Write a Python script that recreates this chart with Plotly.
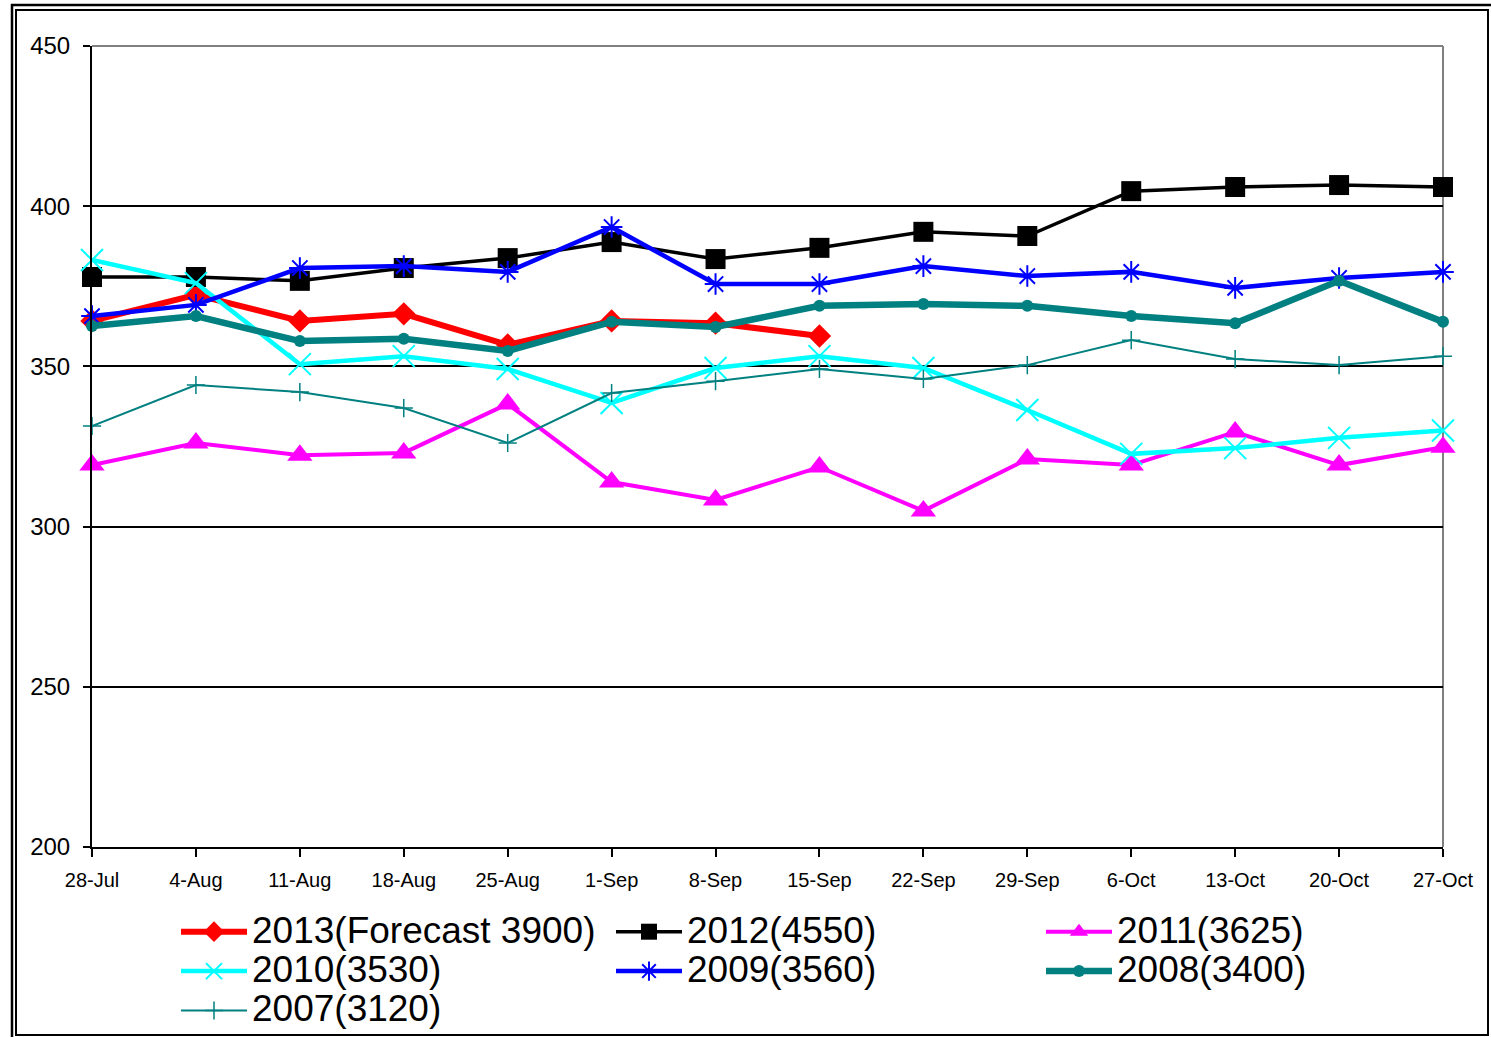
import plotly.graph_objects as go

weeks = ["28-Jul", "4-Aug", "11-Aug", "18-Aug", "25-Aug", "1-Sep", "8-Sep",
         "15-Sep", "22-Sep", "29-Sep", "6-Oct", "13-Oct", "20-Oct", "27-Oct"]

s2013 = [364.2, 372.3, 364.2, 366.4, 356.7, 364.2, 363.5, 359.5]
s2012 = [377.9, 377.9, 376.7, 380.7, 383.8, 388.8, 383.5, 387.0, 392.0, 390.7, 404.7, 406.0, 406.6, 406.0]
s2011 = [319.2, 326.1, 322.3, 323.0, 338.3, 313.9, 308.3, 318.6, 304.9, 321.1, 319.2, 329.5, 319.2, 324.8]
s2010 = [383.2, 376.0, 350.7, 353.2, 349.2, 338.6, 349.5, 353.2, 349.5, 336.4, 322.7, 324.5, 327.7, 330.0]
s2009 = [365.7, 369.2, 380.7, 381.3, 379.5, 393.5, 375.7, 375.7, 381.3, 378.2, 379.5, 374.5, 377.6, 379.5]
s2008 = [362.6, 365.7, 357.9, 358.6, 354.8, 363.9, 362.3, 368.9, 369.5, 368.9, 365.7, 363.5, 376.7, 363.9]
s2007 = [331.4, 344.2, 342.0, 337.0, 326.1, 341.7, 345.4, 349.2, 346.1, 350.4, 358.2, 352.3, 350.4, 353.2]

names = ["2013(Forecast 3900)", "2012(4550)", "2011(3625)", "2010(3530)",
         "2009(3560)", "2008(3400)", "2007(3120)"]
y_ticks = [200, 250, 300, 350, 400, 450]

# (name, values, line, marker, legend column)
series = [
    (names[0], s2013, dict(color="#FF0000", width=6), dict(symbol="diamond", size=18, color="#FF0000"), "legend"),
    (names[1], s2012, dict(color="#000000", width=3.5), dict(symbol="square", size=20, color="#000000"), "legend2"),
    (names[2], s2011, dict(color="#FF00FF", width=4), dict(symbol="triangle-up", size=22, color="#FF00FF"), "legend3"),
    (names[3], s2010, dict(color="#00FFFF", width=4.5), dict(symbol="x-thin-open", size=22, color="#00FFFF", line=dict(color="#00FFFF", width=2)), "legend"),
    (names[4], s2009, dict(color="#0000FF", width=4.5), dict(symbol="asterisk-open", size=18, color="#0000FF", line=dict(color="#0000FF", width=2)), "legend2"),
    (names[5], s2008, dict(color="#008080", width=6.5), dict(symbol="circle", size=12, color="#008080"), "legend3"),
    (names[6], s2007, dict(color="#008080", width=2), dict(symbol="cross-thin-open", size=13, color="#008080", line=dict(color="#008080", width=1.5)), "legend"),
]

fig = go.Figure()
for name, vals, line, marker, leg in series:
    fig.add_trace(go.Scatter(
        x=weeks[:len(vals)], y=vals, mode="lines+markers",
        name="<span style='font-size:37px'>" + name + "</span>",
        line=line, marker=marker, cliponaxis=False, legend=leg,
    ))

W, H = 1491, 1037
L, R, T, B = 92, 1443, 46, 847
def px(x):
    return (x - L) / (R - L)
def py(y):
    return (B - y) / (B - T)

shapes = [
    dict(type="line", xref="paper", yref="paper", x0=0, x1=1, y0=1, y1=1,
         line=dict(color="#808080", width=2), layer="between"),
    dict(type="line", xref="paper", yref="paper", x0=1, x1=1, y0=0, y1=1,
         line=dict(color="#808080", width=2), layer="between"),
    dict(type="rect", xref="paper", yref="paper", x0=px(12), x1=px(1500), y0=py(5), y1=py(1045),
         line=dict(color="black", width=2.5), layer="below"),
    dict(type="rect", xref="paper", yref="paper", x0=px(16), x1=px(1488), y0=py(10), y1=py(1035),
         line=dict(color="black", width=2), layer="below"),
]

leg_y = 1 - 907 / H
def legend_at(xpix):
    return dict(xref="container", yref="container", x=xpix / W, xanchor="left",
                y=leg_y, yanchor="top", orientation="v",
                font=dict(size=28, color="black"), itemwidth=66,
                bgcolor="rgba(0,0,0,0)", tracegroupgap=0, traceorder="normal")

fig.update_layout(
    width=W, height=H,
    margin=dict(l=L, r=W - R, t=T, b=H - B, pad=0, autoexpand=False),
    paper_bgcolor="white", plot_bgcolor="white",
    font=dict(family="Liberation Sans, Arial, sans-serif", color="black"),
    showlegend=True,
    legend=legend_at(176),
    legend2=legend_at(611),
    legend3=legend_at(1041),
    shapes=shapes,
    xaxis=dict(type="category", range=[0, len(weeks) - 1], showgrid=False,
               showline=True, linecolor="black", linewidth=2,
               ticks="outside", ticklen=8, tickwidth=1.5, tickcolor="black",
               tickfont=dict(size=20), ticklabelstandoff=6, zeroline=False),
    yaxis=dict(range=[200, 450], tickvals=y_ticks, showgrid=True,
               gridcolor="black", gridwidth=1.5,
               showline=True, linecolor="black", linewidth=2,
               ticks="outside", ticklen=7, tickwidth=1.5, tickcolor="black",
               tickfont=dict(size=24), ticklabelstandoff=8, zeroline=False),
)

fig.write_html("out.html", config={"displayModeBar": False},
               post_script="document.body.style.margin='0';document.body.style.overflow='hidden';")
